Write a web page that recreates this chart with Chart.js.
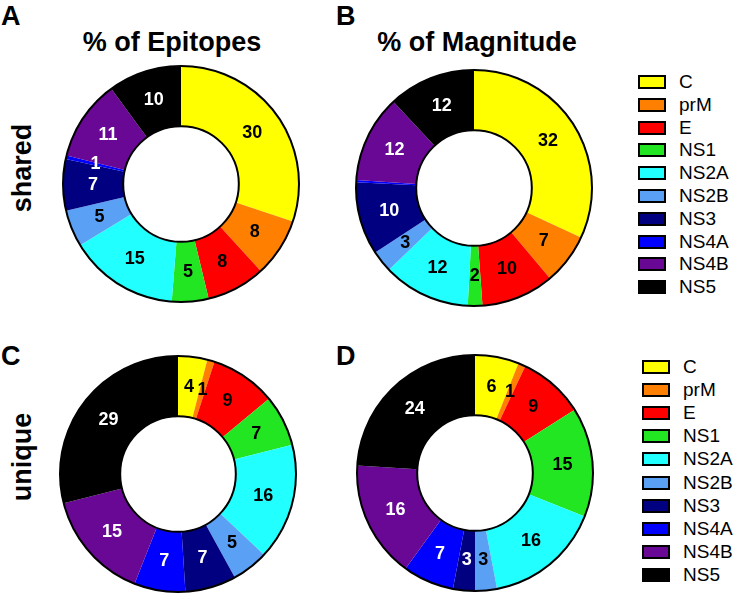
<!DOCTYPE html>
<html>
<head>
<meta charset="utf-8">
<script src="https://cdn.jsdelivr.net/npm/chart.js@4"></script>
<style>
  html, body { margin: 0; padding: 0; background: #fff; }
  body { width: 733px; height: 595px; position: relative; overflow: hidden; font-family: "Liberation Sans", Arial, sans-serif; }
  .abs { position: absolute; }
  .letter { font-size: 27px; font-weight: bold; line-height: 1; }
  .title { font-size: 27px; font-weight: bold; line-height: 1; white-space: nowrap; transform: translateX(-50%); }
  .row { font-size: 27px; font-weight: bold; line-height: 1; white-space: nowrap; transform: translate(-50%, -50%) rotate(-90deg); }
  .legend { font-size: 19px; line-height: 1; }
  .legend .item { position: absolute; left: 0; white-space: nowrap; }
  .legend .box { position: absolute; left: 0; width: 24px; height: 10px; border: 2px solid #000; }
  .legend .txt { position: absolute; left: 41px; top: -10px; }
</style>
</head>
<body>
<div class="abs letter" style="left:1px;top:3px">A</div>
<div class="abs letter" style="left:336px;top:3px">B</div>
<div class="abs letter" style="left:1px;top:343px">C</div>
<div class="abs letter" style="left:336px;top:343px">D</div>
<div class="abs title" style="left:172px;top:29px">% of Epitopes</div>
<div class="abs title" style="left:477px;top:29px">% of Magnitude</div>
<div class="abs row" style="left:22px;top:168px">shared</div>
<div class="abs row" style="left:22px;top:457px">unique</div>
<canvas id="cA" class="abs" style="left:59px;top:62px"></canvas>
<canvas id="cB" class="abs" style="left:352px;top:66px"></canvas>
<canvas id="cC" class="abs" style="left:56px;top:352px"></canvas>
<canvas id="cD" class="abs" style="left:353px;top:351px"></canvas>
<div id="legTop" class="abs legend" style="left:638px;top:82px"></div>
<div id="legBot" class="abs legend" style="left:642px;top:367px"></div>
<script>
const proteins = ["C", "prM", "E", "NS1", "NS2A", "NS2B", "NS3", "NS4A", "NS4B", "NS5"];
const colors = ["#ffff00", "#ff8000", "#ff0000", "#22e622", "#22ffff", "#5aa0f5", "#000080", "#0000ff", "#6a0896", "#000000"];
const textColors = ["#000", "#000", "#000", "#000", "#000", "#000", "#fff", "#fff", "#fff", "#fff"];

const sharedEpitopes = [30, 8, 8, 5, 15, 5, 7, 0.5, 11, 10];
const sharedMagnitude = [32, 7, 10, 2, 12, 3, 10, 0.3, 12, 12];
const uniqueEpitopes = [4, 1, 9, 7, 16, 5, 7, 7, 15, 29];
const uniqueMagnitude = [6, 1, 9, 15, 16, 3, 3, 7, 16, 24];

const SIZE = 244;

const ringPlugin = {
  id: "ring",
  afterDatasetsDraw(chart) {
    const arc = chart.getDatasetMeta(0).data[0];
    const ctx = chart.ctx;
    ctx.save();
    ctx.lineWidth = 2;
    ctx.strokeStyle = "#000";
    [arc.outerRadius, arc.innerRadius].forEach((r) => {
      ctx.beginPath();
      ctx.arc(arc.x, arc.y, r, 0, Math.PI * 2);
      ctx.stroke();
    });
    ctx.restore();
  },
};

const labelPlugin = {
  id: "sliceLabels",
  afterDatasetsDraw(chart) {
    const ctx = chart.ctx;
    const vals = chart.data.datasets[0].data;
    ctx.save();
    ctx.font = "bold 18px 'Liberation Sans', Arial, sans-serif";
    ctx.textAlign = "center";
    ctx.textBaseline = "middle";
    chart.getDatasetMeta(0).data.forEach((arc, i) => {
      if (vals[i] < 0.5) return;
      const p = arc.tooltipPosition();
      ctx.fillStyle = textColors[i];
      ctx.fillText(String(Math.round(vals[i])), p.x, p.y);
    });
    ctx.restore();
  },
};

function donut(id, values) {
  const el = document.getElementById(id);
  el.width = SIZE;
  el.height = SIZE;
  el.style.width = SIZE + "px";
  el.style.height = SIZE + "px";
  return new Chart(el, {
    type: "doughnut",
    data: {
      labels: proteins,
      datasets: [{ data: values, backgroundColor: colors, borderWidth: 0 }],
    },
    options: {
      responsive: false,
      animation: false,
      cutout: "49%",
      layout: { padding: 4 },
      plugins: { legend: { display: false }, tooltip: { enabled: false } },
    },
    plugins: [ringPlugin, labelPlugin],
  });
}

donut("cA", sharedEpitopes);
donut("cB", sharedMagnitude);
donut("cC", uniqueEpitopes);
donut("cD", uniqueMagnitude);

function legend(id, step) {
  document.getElementById(id).innerHTML = proteins
    .map((p, i) => `<div class="item" style="top:${i * step}px"><span class="box" style="top:-7px;background:${colors[i]}"></span><span class="txt">${p}</span></div>`)
    .join("");
}
legend("legTop", 22.8);
legend("legBot", 23.1);
</script>
</body>
</html>
